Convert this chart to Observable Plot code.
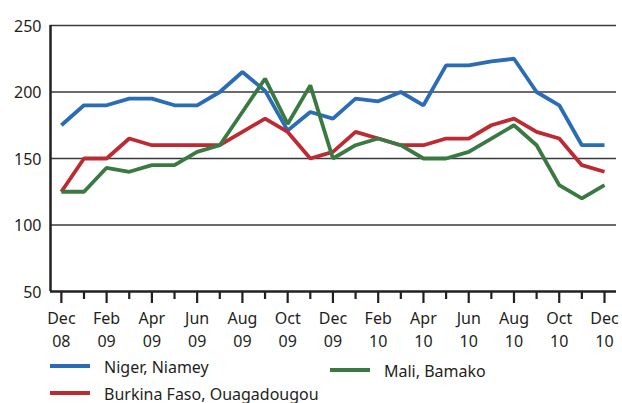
<!DOCTYPE html>
<html>
<head>
<meta charset="utf-8">
<script src="https://cdn.jsdelivr.net/npm/d3@7"></script>
<script src="https://cdn.jsdelivr.net/npm/@observablehq/plot@0.6"></script>
<style>
  html, body { margin: 0; padding: 0; background: #fff; }
  #wrap { position: relative; width: 622px; height: 403px; overflow: hidden; font-family: "Noto Sans", sans-serif; color: #231f20; }
  .sw { position: absolute; width: 40px; height: 4px; }
  .lab { position: absolute; font-size: 16px; line-height: 20px; white-space: nowrap; }
</style>
</head>
<body>
<div id="wrap"></div>
<script>
const months = ["Dec 08","Jan 09","Feb 09","Mar 09","Apr 09","May 09","Jun 09","Jul 09","Aug 09","Sep 09","Oct 09","Nov 09",
  "Dec 09","Jan 10","Feb 10","Mar 10","Apr 10","May 10","Jun 10","Jul 10","Aug 10","Sep 10","Oct 10","Nov 10","Dec 10"];
const niger =   [175,190,190,195,195,190,190,200,215,201,171,185,180,195,193,200,190,220,220,223,225,200,190,160,160];
const burkina = [125,150,150,165,160,160,160,160,170,180,170,150,155,170,165,160,160,165,165,175,180,170,165,145,140];
const mali =    [125,125,143,140,145,145,155,160,185,210,176,205,150,160,165,160,150,150,155,165,175,160,130,120,130];
const yTicks = [50,100,150,200,250];
const seriesNames = ["Niger, Niamey","Burkina Faso, Ouagadougou","Mali, Bamako"];
const colors = ["#2a6cb6","#be2a32","#3a7a42"];

const data = [];
[niger, burkina, mali].forEach((arr, s) => arr.forEach((v, i) => data.push({i, v, s: seriesNames[s]})));
const idx = months.map((_, i) => i);
const major = idx.filter(i => i % 2 === 0);
const minor = idx.filter(i => i % 2 === 1);
const xMin = -0.48, xMax = 24.53;

const chart = Plot.plot({
  width: 622, height: 352,
  marginLeft: 50, marginRight: 6, marginTop: 25, marginBottom: 61,
  style: {fontFamily: "Noto Sans, sans-serif", fontSize: "16px", color: "#231f20", background: "#fff"},
  x: {domain: [xMin, xMax], axis: null},
  y: {domain: [50, 250], axis: null},
  color: {domain: seriesNames, range: colors},
  marks: [
    Plot.ruleY([100,150,200,250], {stroke: "#3a3a3a", strokeWidth: 1.3}),
    Plot.lineY(data, {x: "i", y: "v", z: "s", stroke: "s", strokeWidth: 3.8, strokeLinejoin: "miter", strokeLinecap: "butt"}),
    Plot.ruleX([xMin], {stroke: "#231f20", strokeWidth: 2.5}),
    Plot.ruleY([50], {stroke: "#231f20", strokeWidth: 2.5}),
    Plot.axisY({ticks: yTicks, label: null, tickSize: 0, tickPadding: 9, fontSize: 16, dy: 1}),
    Plot.axisX({ticks: minor, label: null, tickSize: 8, tickFormat: () => "", strokeWidth: 2.2, stroke: "#231f20"}),
    Plot.axisX({ticks: major, label: null, tickSize: 12, tickPadding: 4, strokeWidth: 2.2, stroke: "#231f20", fontSize: 16, lineHeight: 1.45,
      tickFormat: i => months[i].replace(" ", "\n")})
  ]
});
const wrap = document.getElementById("wrap");
wrap.appendChild(chart);

const legendPos = [
  {sx: 50, sy: 364, tx: 104, ty: 357},
  {sx: 50, sy: 391, tx: 104, ty: 384},
  {sx: 330, sy: 368, tx: 384, ty: 361}
];
seriesNames.forEach((name, k) => {
  const p = legendPos[k];
  const sw = document.createElement("div");
  sw.className = "sw";
  sw.style.left = p.sx + "px"; sw.style.top = p.sy + "px"; sw.style.background = colors[k];
  wrap.appendChild(sw);
  const t = document.createElement("div");
  t.className = "lab";
  t.style.left = p.tx + "px"; t.style.top = p.ty + "px";
  t.textContent = name;
  wrap.appendChild(t);
});
</script>
</body>
</html>
